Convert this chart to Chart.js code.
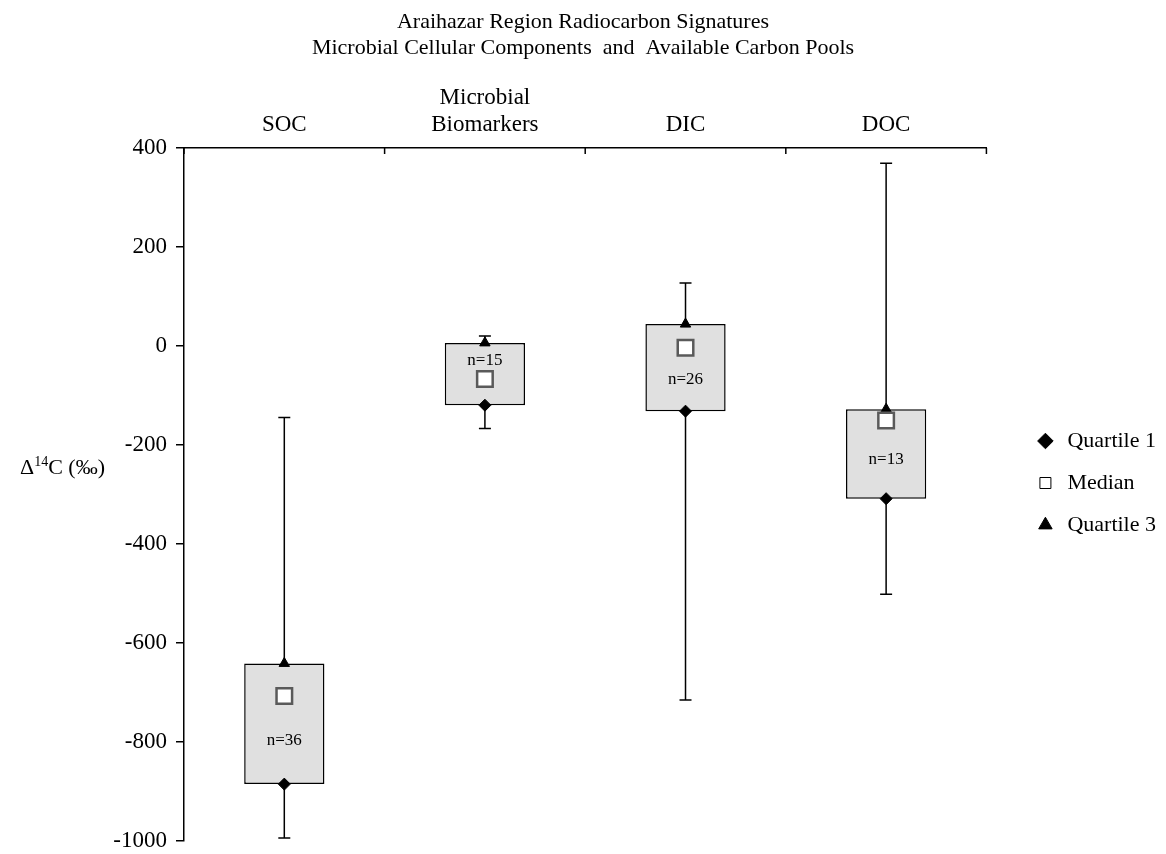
<!DOCTYPE html>
<html lang="en">
<head>
<meta charset="UTF-8">
<title>Araihazar Region Radiocarbon Signatures</title>
<script src="https://cdn.jsdelivr.net/npm/chart.js"></script>
<style>
  body { margin: 0; background: #fff; }
  #wrap { width: 1166px; height: 854px; }
</style>
</head>
<body>
<div id="wrap"><canvas id="c14Chart"></canvas></div>
<script>
// values, per-mil Δ14C
const groups = [['SOC'], ['Microbial', 'Biomarkers'], ['DIC'], ['DOC']];
const lowWhisker = [-995, -167, -716, -502];
const quartile1 = [-886, -120, -132, -309];
const medians = [-708, -67, -4, -151];
const quartile3 = [-642, 6, 44, -128];
const highWhisker = [-145, 20, 127, 369];
const counts = [36, 15, 26, 13];
const yTickValues = [-1000, -800, -600, -400, -200, 0, 200, 400];

const SERIF = '"Liberation Serif", "Times New Roman", serif';

const boxExtras = {
  id: 'boxExtras',
  beforeDatasetsDraw(chart) {
    const { ctx, scales: { x, y } } = chart;
    ctx.save();
    ctx.strokeStyle = '#000';
    ctx.lineWidth = 1.5;
    lowWhisker.forEach((lo, i) => {
      const px = x.getPixelForValue(i);
      const y1 = y.getPixelForValue(lo);
      const y2 = y.getPixelForValue(highWhisker[i]);
      ctx.beginPath();
      ctx.moveTo(px, y1); ctx.lineTo(px, y2);
      ctx.moveTo(px - 6, y1); ctx.lineTo(px + 6, y1);
      ctx.moveTo(px - 6, y2); ctx.lineTo(px + 6, y2);
      ctx.stroke();
    });
    ctx.restore();
  },
  afterDatasetsDraw(chart) {
    const { ctx, scales: { x, y } } = chart;
    ctx.save();
    ctx.fillStyle = '#000';
    ctx.font = '17px ' + SERIF;
    ctx.textAlign = 'center';
    ctx.textBaseline = 'middle';
    counts.forEach((n, i) => {
      // put the count in the bigger gap of the box
      const up = quartile3[i] - medians[i];
      const down = medians[i] - quartile1[i];
      const v = up > down ? (quartile3[i] + medians[i]) / 2 : (quartile1[i] + medians[i]) / 2;
      ctx.fillText('n=' + n, x.getPixelForValue(i), y.getPixelForValue(v));
    });
    ctx.restore();
  },
  afterDraw(chart) {
    const { ctx, chartArea, scales: { x } } = chart;
    ctx.save();
    // category ticks hang inside the plot from the top axis
    ctx.strokeStyle = '#000';
    ctx.lineWidth = 1.5;
    ctx.beginPath();
    for (let i = 0; i <= groups.length; i++) {
      const px = x.getPixelForValue(i - 0.5);
      ctx.moveTo(px, chartArea.top);
      ctx.lineTo(px, chartArea.top + 6);
    }
    ctx.stroke();

    // horizontal y axis title with superscript
    const yc = (chartArea.top + chartArea.bottom) / 2 - 26;
    let tx = 20;
    ctx.fillStyle = '#000';
    ctx.textBaseline = 'middle';
    ctx.textAlign = 'left';
    ctx.font = '22px ' + SERIF;
    ctx.fillText('Δ', tx, yc);
    tx += ctx.measureText('Δ').width;
    ctx.font = '14px ' + SERIF;
    ctx.fillText('14', tx, yc - 6);
    tx += ctx.measureText('14').width;
    ctx.font = '22px ' + SERIF;
    ctx.fillText('C (‰)', tx, yc);
    ctx.restore();
  }
};

new Chart(document.getElementById('c14Chart'), {
  type: 'bar',
  data: {
    labels: groups,
    datasets: [
      {
        label: 'Quartile 1',
        type: 'line',
        data: quartile1,
        showLine: false,
        pointStyle: 'rectRot',
        pointRadius: 6,
        pointBackgroundColor: '#000',
        pointBorderColor: '#000',
        backgroundColor: '#000',
        borderColor: '#000',
        borderWidth: 1,
        order: 2
      },
      {
        label: 'Median',
        type: 'line',
        data: medians,
        showLine: false,
        pointStyle: 'rect',
        pointRadius: 11,
        pointBackgroundColor: '#fff',
        pointBorderColor: '#5a5a5a',
        pointBorderWidth: 2.5,
        backgroundColor: '#fff',
        borderColor: '#000',
        borderWidth: 1,
        order: 1
      },
      {
        label: 'Quartile 3',
        type: 'line',
        data: quartile3,
        showLine: false,
        pointStyle: 'triangle',
        pointRadius: 6,
        pointBackgroundColor: '#000',
        pointBorderColor: '#000',
        backgroundColor: '#000',
        borderColor: '#000',
        borderWidth: 1,
        order: 2
      },
      {
        label: '',
        data: quartile1.map((q, i) => [q, quartile3[i]]),
        backgroundColor: '#e0e0e0',
        borderColor: '#000',
        borderWidth: 1.5,
        borderSkipped: false,
        categoryPercentage: 1,
        barPercentage: 0.4,
        order: 10
      }
    ]
  },
  options: {
    responsive: true,
    maintainAspectRatio: false,
    animation: false,
    layout: { padding: { left: 0, right: 0, top: 0, bottom: 0 } },
    plugins: {
      tooltip: { enabled: false },
      title: {
        display: true,
        text: ['Araihazar Region Radiocarbon Signatures',
               'Microbial Cellular Components  and  Available Carbon Pools'],
        color: '#000',
        font: { family: SERIF, size: 22, weight: 'normal', lineHeight: 1.2 },
        padding: { top: 9, bottom: 13 }
      },
      legend: {
        position: 'right',
        fullSize: false,
        align: 'start',
        title: {
          // blank title only pushes the entries down to mid-height
          display: true,
          text: ' ',
          font: { size: 10 },
          padding: { top: 0, bottom: 250 }
        },
        labels: {
          color: '#000',
          font: { family: SERIF, size: 22 },
          usePointStyle: true,
          boxHeight: 11,
          padding: 20,
          filter: item => item.text !== '',
          sort: (a, b) => a.datasetIndex - b.datasetIndex,
          generateLabels: chart => {
            const items = Chart.defaults.plugins.legend.labels.generateLabels(chart);
            items.forEach(it => {
              if (it.text === 'Median') { it.strokeStyle = '#000'; it.lineWidth = 1; }
            });
            return items;
          }
        }
      }
    },
    scales: {
      x: {
        type: 'category',
        position: 'top',
        offset: true,
        grid: { display: false, drawTicks: false },
        border: { color: '#000', width: 1.5 },
        ticks: {
          color: '#000',
          font: { family: SERIF, size: 23, lineHeight: 1.2 },
          padding: 9,
          maxRotation: 0
        }
      },
      y: {
        position: 'left',
        min: -1000,
        max: 400,
        afterBuildTicks: s => { s.ticks = yTickValues.map(v => ({ value: v })); },
        afterFit: s => { s.width = 184; },
        grid: { drawOnChartArea: false, tickLength: 8, color: '#000', lineWidth: 1.5 },
        border: { color: '#000', width: 1.5 },
        ticks: {
          color: '#000',
          // tiny line height so the bottom label does not shrink the plot
          font: { family: SERIF, size: 23, lineHeight: 0.15 },
          padding: 9,
          callback: v => String(v)
        }
      },
      gap: {
        position: 'right',
        display: true,
        grid: { display: false },
        border: { display: false },
        ticks: { display: false },
        afterFit: s => { s.width = 28; }
      }
    }
  },
  plugins: [boxExtras]
});
</script>
</body>
</html>
